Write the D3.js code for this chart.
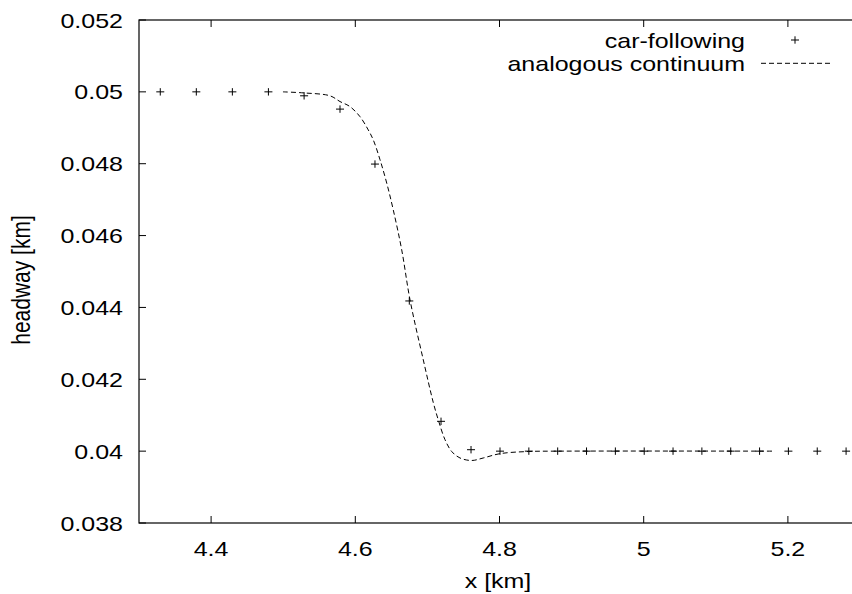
<!DOCTYPE html>
<html><head><meta charset="utf-8">
<script src="https://cdn.jsdelivr.net/npm/d3@7"></script>
<style>html,body{margin:0;padding:0;background:#fff;overflow:hidden}</style>
</head><body>
<svg id="c" width="852" height="594"></svg>
<script>
// car-following positions and headways
const carX = [4.3295,4.3795,4.4295,4.4795,4.529,4.5788,4.6273,4.6749,4.7189,4.7605,4.8007,4.8407,4.8807,4.9207,4.9607,5.0007,5.0407,5.0807,5.1207,5.1607,5.2007,5.2407,5.2807];
const carY = [0.05,0.05,0.05,0.05,0.04989,0.04952,0.04799,0.04418,0.04083,0.04004,0.04,0.04,0.04,0.04,0.04,0.04,0.04,0.04,0.04,0.04,0.04,0.04,0.04];
// analogous continuum curve
const contX = [4.4997,4.5289,4.5649,4.5788,4.5926,4.6065,4.6180,4.6250,4.6343,4.6436,4.6527,4.6644,4.6759,4.6943,4.7082,4.7151,4.7244,4.7337,4.7452,4.7614,4.7775,4.8007,4.8400,4.884,5.182];
const contY = [0.05,0.04997,0.04989,0.04973,0.04959,0.04931,0.04894,0.04866,0.04811,0.04746,0.04671,0.04560,0.04421,0.04254,0.04135,0.04087,0.04032,0.03999,0.03981,0.03974,0.03981,0.03993,0.03999,0.04,0.04];
const xTicks = [4.4,4.6,4.8,5.0,5.2];
const xTickLabels = ["4.4","4.6","4.8","5","5.2"];
const yTicks = [0.038,0.040,0.042,0.044,0.046,0.048,0.050,0.052];
const yTickLabels = ["0.038","0.04","0.042","0.044","0.046","0.048","0.05","0.052"];
const seriesNames = ["car-following","analogous continuum"];

const L=139, R=860, T=20, B=523;
const x = d3.scaleLinear().domain([4.3,5.3]).range([L,R]);
const y = d3.scaleLinear().domain([0.038,0.052]).range([B,T]);
const svg = d3.select("#c");
const FONT = "'Liberation Sans', Arial, sans-serif";
const FS = 21, SX = 1.19;

function txt(px, py, s, anchor, rot) {
  const g = svg.append("g").attr("transform", `translate(${px},${py}) scale(${SX},1)` + (rot ? ` rotate(${rot})` : ""));
  g.append("text").attr("x",0).attr("y",0).attr("text-anchor",anchor)
    .attr("font-family",FONT).attr("font-size",FS).attr("fill","#000").text(s);
}

// border
svg.append("rect").attr("x",L).attr("y",T).attr("width",R-L).attr("height",B-T)
  .attr("fill","none").attr("stroke","#000").attr("stroke-width",1.2);

// ticks
const TL = 7;
xTicks.forEach((v,i)=>{
  const px = x(v);
  svg.append("line").attr("x1",px).attr("x2",px).attr("y1",B).attr("y2",B-TL).attr("stroke","#000");
  svg.append("line").attr("x1",px).attr("x2",px).attr("y1",T).attr("y2",T+TL).attr("stroke","#000");
  txt(px, 556, xTickLabels[i], "middle");
});
yTicks.forEach((v,i)=>{
  const py = y(v);
  svg.append("line").attr("x1",L).attr("x2",L+TL).attr("y1",py).attr("y2",py).attr("stroke","#000");
  svg.append("line").attr("x1",R).attr("x2",R-TL).attr("y1",py).attr("y2",py).attr("stroke","#000");
  txt(123, py+7.5, yTickLabels[i], "end");
});

// axis labels
txt(498, 588, "x [km]", "middle");
txt(30, 280, "headway [km]", "middle", -90);

// continuum curve
const contData = contX.map((d,i)=>[d,contY[i]]);
svg.append("path").datum(contData)
  .attr("d", d3.line().x(d=>x(d[0])).y(d=>y(d[1])).curve(d3.curveCatmullRom.alpha(0.5)))
  .attr("fill","none").attr("stroke","#000").attr("stroke-width",1).attr("stroke-dasharray","5,3");

// plus markers
function plus(px,py){
  svg.append("path").attr("d",`M${px-4},${py}H${px+4}M${px},${py-3.7}V${py+3.7}`)
    .attr("stroke","#000").attr("stroke-width",1).attr("fill","none");
}
carX.forEach((d,i)=>plus(x(d), y(carY[i])));

// legend
txt(745, 47.5, seriesNames[0], "end");
plus(795, 40);
txt(745, 71, seriesNames[1], "end");
svg.append("line").attr("x1",761).attr("x2",830).attr("y1",63.3).attr("y2",63.3)
  .attr("stroke","#000").attr("stroke-width",1).attr("stroke-dasharray","5,3");
</script>
</body></html>
